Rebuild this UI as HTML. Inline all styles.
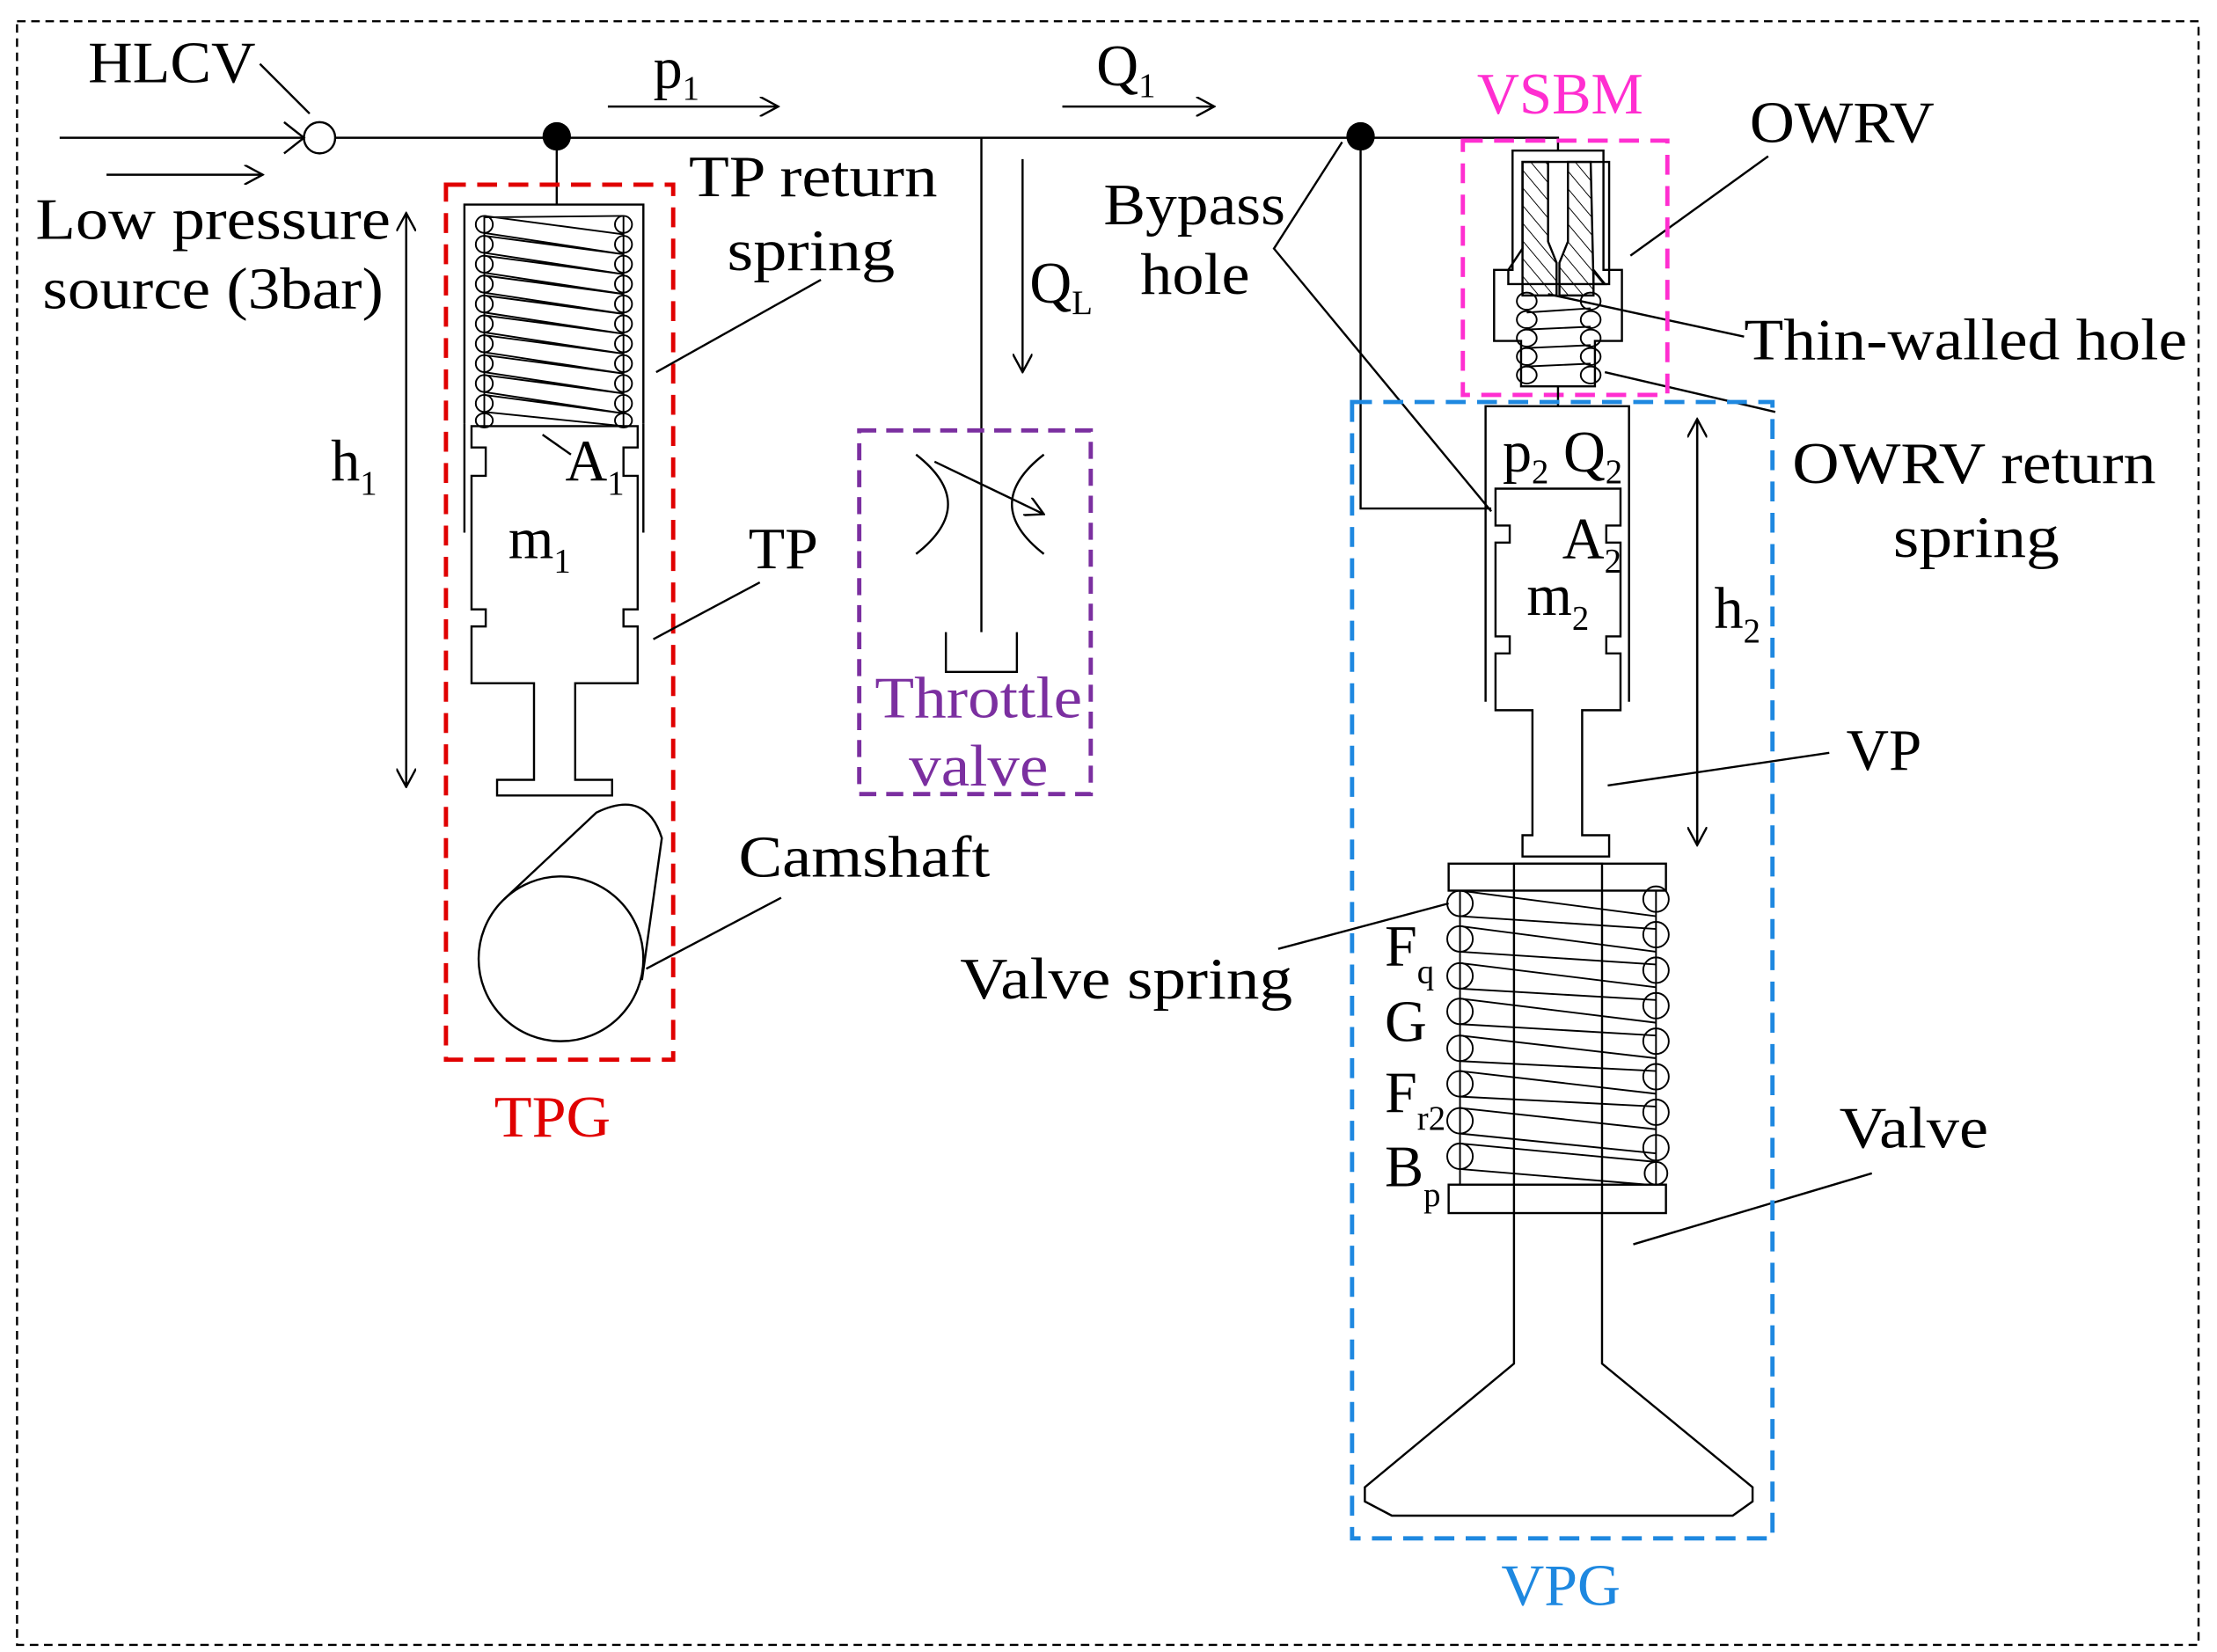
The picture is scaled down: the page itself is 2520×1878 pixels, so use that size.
<!DOCTYPE html>
<html><head><meta charset="utf-8"><style>
html,body{margin:0;padding:0;background:#fff}
svg{display:block}
text{font-family:"Liberation Serif",serif;font-size:41px;fill:#000}
.s{font-size:24px}
</style></head><body>
<svg width="2520" height="1878" viewBox="0 0 1561 1163" preserveAspectRatio="none" xmlns="http://www.w3.org/2000/svg">
<defs>
<marker id="ah" markerWidth="14" markerHeight="14" refX="13" refY="7" orient="auto" markerUnits="userSpaceOnUse"><path d="M0,0 L13,7 L0,14" fill="none" stroke="#000" stroke-width="1.5"/></marker>
<pattern id="hatch" width="8" height="8" patternUnits="userSpaceOnUse" patternTransform="rotate(-40)"><line x1="0" y1="0" x2="0" y2="8" stroke="#000" stroke-width="1.2"/></pattern>
</defs>
<g fill="none" stroke="#000" stroke-width="1.5">
<rect x="12" y="15" width="1536" height="1143" stroke-dasharray="6,4"/>
<polyline points="42,97 1097,97 1097,106"/>
<line x1="75" y1="123" x2="185" y2="123" marker-end="url(#ah)"/>
<circle cx="225" cy="97" r="11" fill="#fff"/>
<polyline points="200,86 214,97 200,108"/>
<line x1="183" y1="45" x2="218" y2="80"/>
<line x1="428" y1="75" x2="548" y2="75" marker-end="url(#ah)"/>
<line x1="748" y1="75" x2="855" y2="75" marker-end="url(#ah)"/>
<line x1="720" y1="112" x2="720" y2="262" marker-end="url(#ah)"/>
<line x1="691" y1="97" x2="691" y2="445"/>
<polyline points="666,445 666,473 716,473 716,445"/>
<path d="M645,320 Q690,355 645,390"/>
<path d="M735,320 Q690,355 735,390"/>
<line x1="658" y1="325" x2="735" y2="362" marker-end="url(#ah)"/>
<rect x="605" y="303" width="163" height="256" stroke="#7b2fa0" stroke-width="3" stroke-dasharray="12,7"/>
<line x1="392" y1="97" x2="392" y2="144"/>
<polyline points="327,298 327,144 453,144 453,298"/>
<polygon points="332,300 449,300 449,315 439,315 439,335 449,335 449,429 439,429 439,441 449,441 449,481 405,481 405,549 431,549 431,560 350,560 350,549 376,549 376,481 332,481 332,441 342,441 342,429 332,429 332,335 342,335 342,315 332,315"/>
<line x1="327" y1="298" x2="327" y2="375"/><line x1="453" y1="298" x2="453" y2="375"/>
<g stroke-width="1.2">
<ellipse cx="341" cy="158" rx="6" ry="6"/><ellipse cx="341" cy="172" rx="6" ry="6"/><ellipse cx="341" cy="186" rx="6" ry="6"/><ellipse cx="341" cy="200" rx="6" ry="6"/><ellipse cx="341" cy="214" rx="6" ry="6"/><ellipse cx="341" cy="228" rx="6" ry="6"/><ellipse cx="341" cy="242" rx="6" ry="6"/><ellipse cx="341" cy="256" rx="6" ry="6"/><ellipse cx="341" cy="270" rx="6" ry="6"/><ellipse cx="341" cy="284" rx="6" ry="6"/><ellipse cx="341" cy="296" rx="6" ry="5"/>
<ellipse cx="439" cy="158" rx="6" ry="6"/><ellipse cx="439" cy="172" rx="6" ry="6"/><ellipse cx="439" cy="186" rx="6" ry="6"/><ellipse cx="439" cy="200" rx="6" ry="6"/><ellipse cx="439" cy="214" rx="6" ry="6"/><ellipse cx="439" cy="228" rx="6" ry="6"/><ellipse cx="439" cy="242" rx="6" ry="6"/><ellipse cx="439" cy="256" rx="6" ry="6"/><ellipse cx="439" cy="270" rx="6" ry="6"/><ellipse cx="439" cy="284" rx="6" ry="6"/><ellipse cx="439" cy="296" rx="6" ry="5"/>
<line x1="341" y1="152" x2="341" y2="300"/><line x1="439" y1="152" x2="439" y2="300"/>
<path d="M341,152L439,165M341,164L439,179M341,166L439,179M341,178L439,193M341,180L439,193M341,192L439,207M341,194L439,207M341,206L439,221M341,208L439,221M341,220L439,235M341,222L439,235M341,234L439,249M341,236L439,249M341,248L439,263M341,250L439,263M341,262L439,277M341,264L439,277M341,276L439,291M341,278L439,291M341,290L439,300M341,153L439,152"/>
</g>
<rect x="314" y="130" width="160" height="616" stroke="#e00000" stroke-width="3" stroke-dasharray="14,8"/>
<circle cx="395" cy="675" r="58"/>
<path d="M355,633 L420,572 Q455,555 466,590 L452,690"/>
<line x1="286" y1="552" x2="286" y2="150" marker-end="url(#ah)"/>
<line x1="286" y1="152" x2="286" y2="554" marker-end="url(#ah)"/>
<line x1="578" y1="197" x2="462" y2="262"/>
<line x1="382" y1="306" x2="402" y2="320"/>
<line x1="535" y1="410" x2="460" y2="450"/>
<line x1="550" y1="632" x2="455" y2="682"/>
<polyline points="958,97 958,358 1050,358"/>
<polyline points="945,100 897,175 1050,360"/>
<polygon points="1065,106 1129,106 1129,190 1142,190 1142,240 1123,240 1123,272 1071,272 1071,240 1052,240 1052,190 1065,190" fill="#fff"/>
<path d="M1072,114 L1090,114 L1090,170 L1096,185 L1096,208 L1072,208 Z" fill="url(#hatch)"/>
<path d="M1120,114 L1104,114 L1104,170 L1098,185 L1098,208 L1122,208 L1122,190 L1130,200 L1122,200 Z" fill="url(#hatch)"/>
<polygon points="1072,114 1133,114 1133,200 1062,200 1062,190 1072,175" fill="none"/>
<g stroke-width="1.2">
<ellipse cx="1075" cy="212" rx="7" ry="6"/><ellipse cx="1075" cy="225" rx="7" ry="6"/><ellipse cx="1075" cy="238" rx="7" ry="6"/><ellipse cx="1075" cy="251" rx="7" ry="6"/><ellipse cx="1075" cy="264" rx="7" ry="6"/>
<ellipse cx="1120" cy="212" rx="7" ry="6"/><ellipse cx="1120" cy="225" rx="7" ry="6"/><ellipse cx="1120" cy="238" rx="7" ry="6"/><ellipse cx="1120" cy="251" rx="7" ry="6"/><ellipse cx="1120" cy="264" rx="7" ry="6"/>
<path d="M1075,220L1120,217M1075,232L1120,230M1075,245L1120,243M1075,258L1120,256"/>
</g>
<line x1="1245" y1="110" x2="1148" y2="180"/>
<line x1="1228" y1="237" x2="1090" y2="207"/>
<line x1="1250" y1="290" x2="1130" y2="262"/>
<rect x="1030" y="99" width="144" height="179" stroke="#ff2ed0" stroke-width="3" stroke-dasharray="14,8"/>
<line x1="1097" y1="272" x2="1097" y2="286"/>
<polyline points="1046,494 1046,286 1147,286 1147,494"/>
<polygon points="1053,344 1141,344 1141,370 1131,370 1131,382 1141,382 1141,448 1131,448 1131,460 1141,460 1141,500 1114,500 1114,588 1133,588 1133,603 1072,603 1072,588 1079,588 1079,500 1053,500 1053,460 1063,460 1063,448 1053,448 1053,382 1063,382 1063,370 1053,370"/>
<line x1="1195" y1="593" x2="1195" y2="295" marker-end="url(#ah)"/>
<line x1="1195" y1="297" x2="1195" y2="595" marker-end="url(#ah)"/>
<line x1="1288" y1="530" x2="1132" y2="553"/>
<polygon points="1066,608 1128,608 1128,960 1234,1047 1234,1057 1220,1067 980,1067 961,1057 961,1047 1066,960" fill="#fff"/>
<rect x="1020" y="608" width="153" height="19"/>
<rect x="1020" y="834" width="153" height="20"/>
<g stroke-width="1.2">
<circle cx="1028" cy="636" r="9"/><circle cx="1028" cy="661" r="9"/><circle cx="1028" cy="687" r="9"/><circle cx="1028" cy="712" r="9"/><circle cx="1028" cy="738" r="9"/><circle cx="1028" cy="763" r="9"/><circle cx="1028" cy="789" r="9"/><circle cx="1028" cy="814" r="9"/>
<circle cx="1166" cy="633" r="9"/><circle cx="1166" cy="658" r="9"/><circle cx="1166" cy="683" r="9"/><circle cx="1166" cy="708" r="9"/><circle cx="1166" cy="733" r="9"/><circle cx="1166" cy="758" r="9"/><circle cx="1166" cy="783" r="9"/><circle cx="1166" cy="808" r="9"/><circle cx="1166" cy="826" r="8"/>
<line x1="1028" y1="627" x2="1028" y2="834"/><line x1="1166" y1="627" x2="1166" y2="834"/>
<path d="M1028,627L1166,645M1028,645L1166,654M1028,652L1166,670M1028,670L1166,679M1028,678L1166,695M1028,696L1166,704M1028,703L1166,720M1028,721L1166,729M1028,729L1166,745M1028,747L1166,754M1028,754L1166,770M1028,772L1166,779M1028,780L1166,795M1028,798L1166,812M1028,805L1166,818M1028,823L1160,834"/>
</g>
<line x1="900" y1="668" x2="1020" y2="636"/>
<line x1="1318" y1="826" x2="1150" y2="876"/>
<rect x="952" y="283" width="296" height="800" stroke="#1e88e0" stroke-width="3" stroke-dasharray="14,8"/>
</g>
<circle cx="392" cy="96" r="10" fill="#000"/>
<circle cx="958" cy="96" r="10" fill="#000"/>
<text x="62" y="58" textLength="118" lengthAdjust="spacingAndGlyphs">HLCV</text>
<text x="25" y="168" textLength="250" lengthAdjust="spacingAndGlyphs">Low pressure</text>
<text x="30" y="217" textLength="240" lengthAdjust="spacingAndGlyphs">source (3bar)</text>
<text x="460" y="62">p<tspan class="s" dy="8">1</tspan></text>
<text x="772" y="60">Q<tspan class="s" dy="8">1</tspan></text>
<text x="725" y="213">Q<tspan class="s" dy="8">L</tspan></text>
<text x="485" y="138" textLength="175" lengthAdjust="spacingAndGlyphs">TP return</text>
<text x="512" y="190" textLength="118" lengthAdjust="spacingAndGlyphs">spring</text>
<text x="398" y="338">A<tspan class="s" dy="10">1</tspan></text>
<text x="358" y="393">m<tspan class="s" dy="10">1</tspan></text>
<text x="233" y="338">h<tspan class="s" dy="10">1</tspan></text>
<text x="527" y="400" textLength="49" lengthAdjust="spacingAndGlyphs">TP</text>
<text x="520" y="617" textLength="177" lengthAdjust="spacingAndGlyphs">Camshaft</text>
<text x="348" y="800" style="fill:#e00000" textLength="82" lengthAdjust="spacingAndGlyphs">TPG</text>
<text x="616" y="505" style="fill:#7b2fa0" textLength="146" lengthAdjust="spacingAndGlyphs">Throttle</text>
<text x="640" y="553" style="fill:#7b2fa0" textLength="98" lengthAdjust="spacingAndGlyphs">valve</text>
<text x="777" y="158" textLength="128" lengthAdjust="spacingAndGlyphs">Bypass</text>
<text x="803" y="207" textLength="77" lengthAdjust="spacingAndGlyphs">hole</text>
<text x="1040" y="80" style="fill:#ff2ed0" textLength="117" lengthAdjust="spacingAndGlyphs">VSBM</text>
<text x="1232" y="100" textLength="130" lengthAdjust="spacingAndGlyphs">OWRV</text>
<text x="1228" y="253" textLength="312" lengthAdjust="spacingAndGlyphs">Thin-walled hole</text>
<text x="1262" y="340" textLength="256" lengthAdjust="spacingAndGlyphs">OWRV return</text>
<text x="1333" y="392" textLength="117" lengthAdjust="spacingAndGlyphs">spring</text>
<text x="1058" y="332">p<tspan class="s" dy="8">2</tspan><tspan dy="-8"> Q</tspan><tspan class="s" dy="8">2</tspan></text>
<text x="1100" y="393">A<tspan class="s" dy="10">2</tspan></text>
<text x="1075" y="433">m<tspan class="s" dy="10">2</tspan></text>
<text x="1207" y="442">h<tspan class="s" dy="10">2</tspan></text>
<text x="1300" y="542" textLength="53" lengthAdjust="spacingAndGlyphs">VP</text>
<text x="676" y="703" textLength="234" lengthAdjust="spacingAndGlyphs">Valve spring</text>
<text x="975" y="680">F<tspan class="s" dy="12">q</tspan></text>
<text x="975" y="733">G</text>
<text x="975" y="783">F<tspan class="s" dy="12">r2</tspan></text>
<text x="975" y="835">B<tspan class="s" dy="14">p</tspan></text>
<text x="1295" y="808" textLength="105" lengthAdjust="spacingAndGlyphs">Valve</text>
<text x="1057" y="1130" style="fill:#1e88e0" textLength="84" lengthAdjust="spacingAndGlyphs">VPG</text>
</svg>
</body></html>
